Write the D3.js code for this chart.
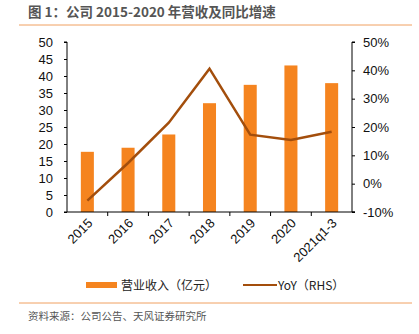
<!DOCTYPE html>
<html>
<head>
<meta charset="utf-8">
<script src="https://cdn.jsdelivr.net/npm/d3@7/dist/d3.min.js"></script>
<style>
  body { margin: 0; background: #fff; }
  text { font-family: "Liberation Sans", Arial, sans-serif; }
  .cjk { font-family: "Noto Sans CJK SC", sans-serif; }
</style>
</head>
<body>
<div id="chart"></div>
<script>
let categories = ['2015', '2016', '2017', '2018', '2019', '2020', '2021q1-3'];
let revenue = [17.7, 18.9, 22.8, 32.0, 37.4, 43.1, 37.9];
let yoy = [-6.0, 7.3, 21.5, 40.6, 17.3, 15.4, 18.3];
let leftTicks = [0, 5, 10, 15, 20, 25, 30, 35, 40, 45, 50];
let rightTicks = [-10, 0, 10, 20, 30, 40, 50];

let width = 419, height = 334;
let plotLeft = 67, plotRight = 352, plotTop = 42, plotBottom = 212;

let svg = d3.select('#chart').append('svg')
            .attr('width', width)
            .attr('height', height);

// Title and rules
svg.append('text')
   .attr('class', 'cjk')
   .attr('x', 28).attr('y', 17)
   .style('font-size', '13.5px')
   .style('font-weight', 'bold')
   .style('fill', '#555')
   .text('图 1：公司 2015-2020 年营收及同比增速');
svg.append('line').attr('x1', 19).attr('x2', 412).attr('y1', 25).attr('y2', 25)
   .style('stroke', '#F0A060').style('stroke-width', 1);
svg.append('line').attr('x1', 19).attr('x2', 412).attr('y1', 303).attr('y2', 303)
   .style('stroke', '#F0A060').style('stroke-width', 1);
svg.append('text')
   .attr('class', 'cjk')
   .attr('x', 28).attr('y', 320)
   .style('font-size', '10.5px')
   .style('fill', '#555')
   .text('资料来源：公司公告、天风证券研究所');

let xScale = d3.scaleBand().domain(categories).range([plotLeft, plotRight]).paddingInner(0.68).paddingOuter(0.34);
let xTickScale = d3.scaleBand().domain(categories).range([plotLeft, plotRight]);
let yLeft = d3.scaleLinear().domain([0, 50]).range([plotBottom, plotTop]);
let yRight = d3.scaleLinear().domain([-10, 50]).range([plotBottom, plotTop]);

// Bars
svg.selectAll('rect.bar')
   .data(revenue)
   .enter()
   .append('rect')
   .attr('class', 'bar')
   .attr('x', (v, i) => xScale(categories[i]))
   .attr('width', xScale.bandwidth())
   .attr('y', v => yLeft(v))
   .attr('height', v => yLeft(0) - yLeft(v))
   .style('fill', '#F5841F');

// Line
let line = d3.line()
             .x((v, i) => xTickScale(categories[i]) + xTickScale.bandwidth() / 2)
             .y(v => yRight(v));
svg.append('path')
   .datum(yoy)
   .attr('d', line)
   .style('fill', 'none')
   .style('stroke', '#A34E0C')
   .style('stroke-width', 2.5);

// Left axis
svg.append('g')
   .attr('transform', `translate(${plotLeft}, 0)`)
   .call(d3.axisLeft(yLeft).tickValues(leftTicks).tickSize(3).tickPadding(11))
   .call(g => g.select('.domain').attr('d', `M-3,${plotTop}H0V${plotBottom}H-3`))
   .selectAll('text')
   .style('font-size', '13px')
   .style('fill', '#111');

// Right axis
svg.append('g')
   .attr('transform', `translate(${plotRight}, 0)`)
   .call(d3.axisRight(yRight).tickValues(rightTicks).tickSize(3).tickPadding(8).tickFormat(v => v + '%'))
   .call(g => g.select('.domain').attr('d', `M3,${plotTop}H0V${plotBottom}H3`))
   .selectAll('text')
   .style('font-size', '13px')
   .style('fill', '#111');

// X axis
let xg = svg.append('g').attr('transform', `translate(0, ${plotBottom})`);
xg.append('line').attr('x1', plotLeft).attr('x2', plotRight + 3).attr('y1', 0).attr('y2', 0)
  .style('stroke', '#000');
xg.selectAll('line.tick')
  .data(categories.slice(1))
  .enter()
  .append('line')
  .attr('x1', d => xTickScale(d)).attr('x2', d => xTickScale(d))
  .attr('y1', 0).attr('y2', 4)
  .style('stroke', '#000');
xg.selectAll('text.xlabel')
  .data(categories)
  .enter()
  .append('text')
  .attr('class', 'xlabel')
  .attr('text-anchor', 'end')
  .attr('transform', d => `translate(${xTickScale(d) + xTickScale.bandwidth() / 2 + 6}, 12) rotate(-45)`)
  .style('font-size', '13px')
  .style('fill', '#111')
  .text(d => d);

// Legend
svg.append('rect').attr('x', 86).attr('y', 282).attr('width', 31).attr('height', 6)
   .style('fill', '#F5841F');
svg.append('text').attr('class', 'cjk')
   .attr('x', 121).attr('y', 290)
   .style('font-size', '12px').style('fill', '#222')
   .text('营业收入（亿元）');
svg.append('line').attr('x1', 243).attr('x2', 277).attr('y1', 285).attr('y2', 285)
   .style('stroke', '#A34E0C').style('stroke-width', 2);
svg.append('text').attr('class', 'cjk')
   .attr('x', 278).attr('y', 290)
   .style('font-size', '12px').style('fill', '#222')
   .text('YoY（RHS）');
</script>
</body>
</html>
